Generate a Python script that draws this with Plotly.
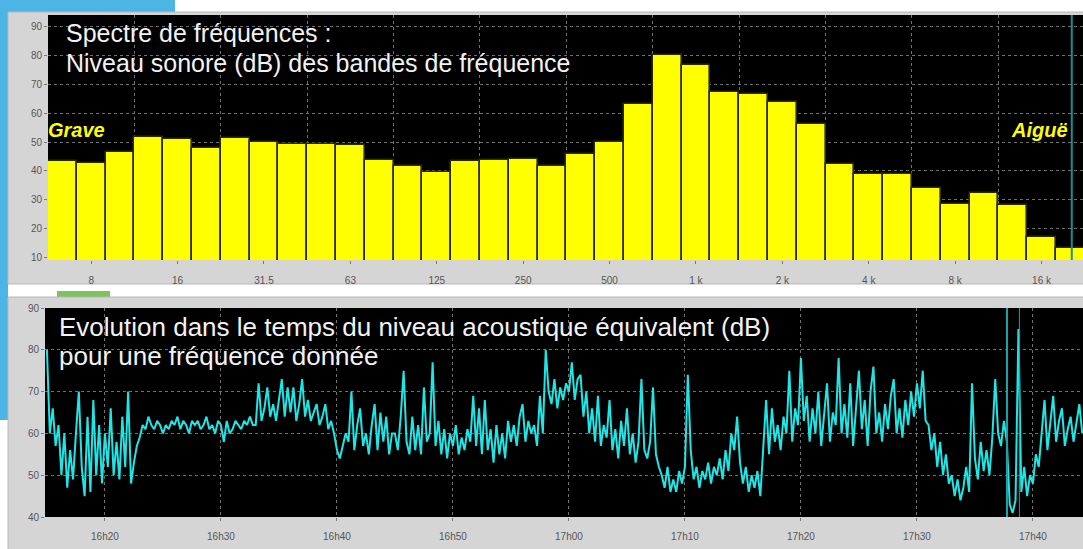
import pandas as pd
import plotly.graph_objects as go

# ---------------- data ----------------
bands = ["6.3", "8", "10", "12.5", "16", "20", "25", "31.5", "40", "50", "63", "80",
         "100", "125", "160", "200", "250", "315", "400", "500", "630", "800", "1k",
         "1.25k", "1.6k", "2k", "2.5k", "3.15k", "4k", "5k", "6.3k", "8k", "10k",
         "12.5k", "16k", "20k"]
levels_db = [43.4, 42.8, 46.6, 51.6, 50.9, 47.8, 51.4, 49.9, 49.3, 49.3, 49.0, 43.6,
             41.7, 39.7, 43.3, 43.6, 44.2, 41.7, 45.8, 50.0, 63.2, 80.3, 76.8,
             67.3, 66.7, 64.0, 56.3, 42.3, 38.8, 38.8, 34.1, 28.5, 32.2,
             28.2, 17.1, 13.0]
tick_bands = ["8", "16", "31.5", "63", "125", "250", "500", "1k", "2k", "4k", "8k", "16k"]
tick_band_text = ["8", "16", "31.5", "63", "125", "250", "500", "1 k", "2 k", "4 k", "8 k", "16 k"]
level_ticks = [10, 20, 30, 40, 50, 60, 70, 80, 90]

series_start = "2024-01-01 16:15:00"
series_step = "15s"
leq_db = [
    80, 60, 66, 57,  62, 50, 60, 47,  56, 49, 60, 70,  52, 45, 64, 46,  68, 50, 62, 48,
    60, 52, 66, 50,  58, 49, 64, 52,  70, 48, 53, 57,  59, 62, 61, 64,  62, 61, 63, 62,
    60, 62, 61, 63,  62, 64, 61, 63,  62, 60, 63, 62,  63, 61, 62, 64,  61, 62, 60, 63,
    62, 58, 63, 60,  61, 63, 62, 61,  63, 62, 64, 62,  62, 72, 63, 66,  71, 64, 67, 63,
    68, 73, 64, 71,  65, 71, 63, 67,  73, 64, 68, 63,  65, 67, 62, 64,  67, 61, 63, 60,
    56, 54, 57, 60,  58, 70, 56, 62,  66, 57, 60, 55,  62, 67, 56, 65,  58, 64, 55, 60,
    60, 56, 64, 75,  58, 55, 64, 56,  62, 55, 71, 58,  60, 77, 57, 63,  55, 61, 54, 60,
    57, 62, 55, 59,  56, 61, 58, 69,  57, 66, 55, 68,  56, 61, 53, 62,  55, 60, 54, 63,
    58, 62, 57, 64,  67, 58, 63, 60,  62, 57, 69, 60,  80, 70, 67, 73,  66, 71, 68, 72,
    70, 77, 68, 73,  74, 64, 70, 60,  66, 58, 69, 57,  62, 59, 68, 56,  61, 54, 63, 57,
    66, 55, 60, 53,  58, 73, 56, 54,  58, 71, 55, 52,  50, 47, 52, 46,  49, 46, 51, 48,
    52, 74, 56, 49,  52, 47, 51, 49,  53, 48, 52, 50,  54, 49, 56, 51,  60, 56, 64, 53,
    48, 52, 46, 50,  47, 51, 45, 56,  68, 55, 66, 58,  62, 56, 64, 60,  75, 58, 66, 62,
    78, 63, 69, 58,  66, 60, 70, 57,  64, 72, 58, 65,  62, 78, 60, 67,  59, 72, 57, 66,
    75, 61, 68, 57,  70, 76, 60, 65,  58, 67, 61, 69,  73, 60, 66, 59,  68, 62, 70, 64,
    72, 66, 75, 63,  62, 56, 60, 52,  58, 50, 55, 48,  50, 45, 49, 44,  47, 52, 46, 72,
    54, 49, 58, 51,  56, 50, 59, 73,  60, 57, 63, 58,  43, 41, 44, 85,  46, 52, 45, 50,
    48, 55, 52, 60,  68, 56, 62, 69,  58, 63, 66, 57,  61, 64, 58, 63,  67, 60,
]
time_range = ["2024-01-01 16:14:50", "2024-01-01 17:44:19"]
time_tick0 = "2024-01-01 16:20:00"
cursor_times = ["2024-01-01 17:37:46", "2024-01-01 17:38:50"]
spectrum_cursor = 35.05

times = pd.date_range(series_start, periods=len(leq_db), freq=series_step)

# ---------------- figure ----------------
W, H = 1083, 549
def fx(px):
    return px / W
def fy(py):
    return 1 - py / H

TOP = dict(x0=48, x1=W, y0=15, y1=260)
BOT = dict(x0=45, x1=W, y0=308, y1=517)

fig = go.Figure()

fig.add_trace(go.Bar(
    x=bands, y=levels_db, xaxis="x", yaxis="y",
    marker=dict(color="#ffff00", line=dict(color="#2b2b00", width=1.6)),
    hoverinfo="x+y",
))
# empty helper trace for band-boundary grid axis
fig.add_trace(go.Scatter(x=[], y=[], xaxis="x3", yaxis="y", showlegend=False))

fig.add_trace(go.Scatter(
    x=times, y=leq_db, xaxis="x2", yaxis="y2", mode="lines",
    line=dict(color="#1fe6e6", width=2),
))

tickfont = dict(family="Liberation Sans Narrow, Arial Narrow, Liberation Sans, Arial", size=10, color="#555555")
grid = dict(showgrid=True, gridcolor="#707070", griddash="dot", gridwidth=1)
common = dict(automargin=False, zeroline=False, showline=False, fixedrange=True)

fig.update_layout(
    width=W, height=H,
    margin=dict(l=0, r=0, t=0, b=0, pad=0, autoexpand=False),
    paper_bgcolor="#ffffff",
    plot_bgcolor="#000000",
    showlegend=False,
    bargap=0,
    xaxis=dict(domain=[fx(TOP["x0"]), 1], anchor="y", type="category",
               categoryorder="array", categoryarray=bands,
               range=[-0.5, 35.44], tickmode="array", tickvals=tick_bands,
               ticktext=tick_band_text, tickfont=tickfont, ticks="outside",
               ticklen=3, tickcolor="#777777", ticklabelstandoff=8,
               showgrid=False, **common),
    xaxis3=dict(overlaying="x", anchor="y", range=[-0.5, 35.44], tick0=2.5, dtick=3,
                showticklabels=False, ticks="", **common, **grid),
    yaxis=dict(domain=[fy(TOP["y1"]), fy(TOP["y0"])], anchor="x", range=[8.96, 94.17],
               tickmode="array", tickvals=level_ticks, tickfont=tickfont,
               ticks="outside", ticklen=3, tickcolor="#777777", **common, **grid),
    xaxis2=dict(domain=[fx(BOT["x0"]), 1], anchor="y2", type="date", range=time_range,
                tick0=time_tick0, dtick=600000, tickformat="%Hh%M",
                tickfont=tickfont, ticks="outside", ticklen=3, tickcolor="#777777",
                ticklabelstandoff=7, **common, **grid),
    yaxis2=dict(domain=[fy(BOT["y1"]), fy(BOT["y0"])], anchor="x2", range=[40, 90], dtick=10,
                tickfont=tickfont, ticks="outside", ticklen=3, tickcolor="#777777",
                **common, **grid),
)

# ---------------- decorations (screenshot frame) ----------------
def prect(x0, x1, y0, y1, color, line=None):
    return dict(type="rect", xref="paper", yref="paper", x0=fx(x0), x1=fx(x1),
                y0=fy(y1), y1=fy(y0), fillcolor=color,
                line=line or dict(width=0), layer="below")

shapes = [
    prect(0, 175, 0, 12, "#4db5e6"),
    prect(0, 8, 0, 420, "#4db5e6"),
    prect(8, W + 10, 12, 284, "#d5d5d5", dict(color="#b8b8b8", width=1)),
    prect(57, 110, 291, 297, "#7cc35a"),
    prect(8, W + 10, 297, H + 10, "#d5d5d5", dict(color="#b8b8b8", width=1)),
    prect(TOP["x0"], TOP["x1"], TOP["y0"], TOP["y1"], "#000000"),
    prect(BOT["x0"], BOT["x1"], BOT["y0"], BOT["y1"], "#000000"),
    dict(type="line", xref="x3", yref="y domain", x0=spectrum_cursor, x1=spectrum_cursor,
         y0=0, y1=1, line=dict(color="#1d8f92", width=2)),
    dict(type="line", xref="x2", yref="y2 domain", x0=cursor_times[0], x1=cursor_times[0],
         y0=0, y1=1, line=dict(color="#1aa3a6", width=2)),
    dict(type="line", xref="x2", yref="y2 domain", x0=cursor_times[1], x1=cursor_times[1],
         y0=0, y1=1, line=dict(color="#1aa3a6", width=1)),
]
fig.update_layout(shapes=shapes)

top_font = dict(family="Liberation Sans, Arial", size=25, color="#f2f2f2")
bot_font = dict(family="Liberation Sans, Arial", size=26, color="#f2f2f2")
label_font = dict(family="Liberation Sans, Arial", size=20, color="#ffff00")
annotations = [
    dict(text="Spectre de fréquences :", x=fx(64), y=fy(33), xanchor="left", yanchor="middle",
         font=top_font),
    dict(text="Niveau sonore (dB) des bandes de fréquence", x=fx(64), y=fy(63),
         xanchor="left", yanchor="middle", font=top_font),
    dict(text="<b><i>Grave</i></b>", x=fx(46), y=fy(130), xanchor="left", yanchor="middle",
         font=label_font),
    dict(text="<b><i>Aiguë</i></b>", x=fx(1070), y=fy(130), xanchor="right", yanchor="middle",
         font=label_font),
    dict(text="Evolution dans le temps du niveau acoustique équivalent (dB)", x=fx(57), y=fy(327),
         xanchor="left", yanchor="middle", font=bot_font),
    dict(text="pour une fréquence donnée", x=fx(57), y=fy(356), xanchor="left",
         yanchor="middle", font=bot_font),
]
for a in annotations:
    a.update(xref="paper", yref="paper", showarrow=False)
fig.update_layout(annotations=annotations)

fig.write_html("out.html", config={"displayModeBar": False},
               post_script="document.body.style.margin='0';document.body.style.overflow='hidden';")
